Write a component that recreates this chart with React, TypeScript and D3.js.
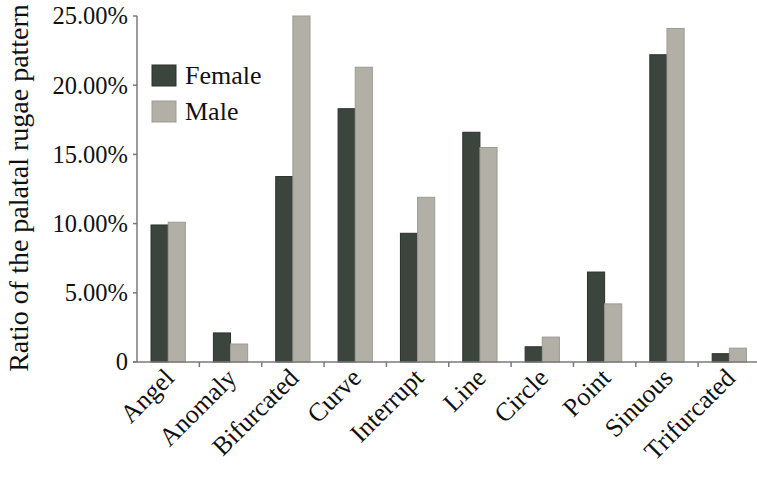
import React from 'react';
import * as d3 from 'd3';

const categories = ['Angel', 'Anomaly', 'Bifurcated', 'Curve', 'Interrupt', 'Line', 'Circle', 'Point', 'Sinuous', 'Trifurcated'];
const female = [9.9, 2.1, 13.4, 18.3, 9.3, 16.6, 1.1, 6.5, 22.2, 0.6];
const male = [10.1, 1.3, 25.0, 21.3, 11.9, 15.5, 1.8, 4.2, 24.1, 1.0];
const seriesNames = ['Female', 'Male'];
const seriesColors = ['#3c443e', '#b1afa6'];
const seriesStrokes = ['#2a302b', '#9d9b92'];
const yTicks = [0, 5, 10, 15, 20, 25];

const width = 757;
const height = 479;
const left = 137;
const right = 760.5;
const top = 16;
const bottom = 362;
const axisColor = '#7a7a7a';
const textColor = '#111';
const font = "'Liberation Serif'";

const x = d3.scaleBand<string>().domain(categories).range([left, right]).paddingInner(0.45).paddingOuter(0.225);
const xStep = d3.scaleBand<string>().domain(categories).range([left, right]).padding(0);
const sub = d3.scaleBand<string>().domain(seriesNames).range([0, x.bandwidth()]).padding(0);
const y = d3.scaleLinear().domain([0, 25]).range([bottom, top]);
const fmt = (d: number) => (d === 0 ? '0' : `${d.toFixed(2)}%`);

const App: React.FC = () => {
  const series = [female, male];
  return (
    <svg
      width={width}
      height={height}
      style={{ position: 'fixed', left: 0, top: 0, display: 'block', background: '#fff' }}
    >
      {/* bars */}
      {categories.map((c, i) => (
        <g key={c} transform={`translate(${x(c)},0)`}>
          {series.map((s, k) => (
            <rect
              key={k}
              x={sub(seriesNames[k])}
              y={y(s[i])}
              width={sub.bandwidth()}
              height={bottom - y(s[i])}
              fill={seriesColors[k]}
              stroke={seriesStrokes[k]}
              strokeWidth={1}
            />
          ))}
        </g>
      ))}

      {/* y axis */}
      <line x1={left} x2={left} y1={top} y2={bottom} stroke={axisColor} strokeWidth={1.5} />
      {yTicks.map(t => (
        <g key={t} transform={`translate(${left},${y(t)})`}>
          <line x1={-4} x2={0} stroke={axisColor} strokeWidth={1.5} />
          <text x={-9} dy="0.34em" textAnchor="end" fill={textColor} style={{ fontFamily: font, fontSize: '24.5px' }}>
            {fmt(t)}
          </text>
        </g>
      ))}

      {/* x axis */}
      <line x1={left - 4} x2={right} y1={bottom} y2={bottom} stroke={axisColor} strokeWidth={1.5} />
      {categories.slice(1).map(c => (
        <line key={c} x1={xStep(c)} x2={xStep(c)} y1={bottom} y2={bottom + 5} stroke={axisColor} strokeWidth={1.5} />
      ))}
      {categories.map(c => (
        <text
          key={c}
          transform={`translate(${x(c)! + x.bandwidth() / 2 + 1},${bottom + 11}) rotate(-45)`}
          dy="0.35em"
          textAnchor="end"
          fill={textColor}
          style={{ fontFamily: font, fontSize: '26px' }}
        >
          {c}
        </text>
      ))}

      {/* y axis title */}
      <text
        transform={`translate(28,188) rotate(-90)`}
        textAnchor="middle"
        fill={textColor}
        style={{ fontFamily: font, fontSize: '28px' }}
      >
        Ratio of the palatal rugae pattern
      </text>

      {/* legend */}
      {seriesNames.map((n, i) => (
        <g key={n} transform={`translate(152,${65 + i * 36})`}>
          <rect width={24} height={21} fill={seriesColors[i]} stroke={seriesStrokes[i]} />
          <text x={33} y={19} fill={textColor} style={{ fontFamily: font, fontSize: '26px' }}>
            {n}
          </text>
        </g>
      ))}
    </svg>
  );
};

export default App;
